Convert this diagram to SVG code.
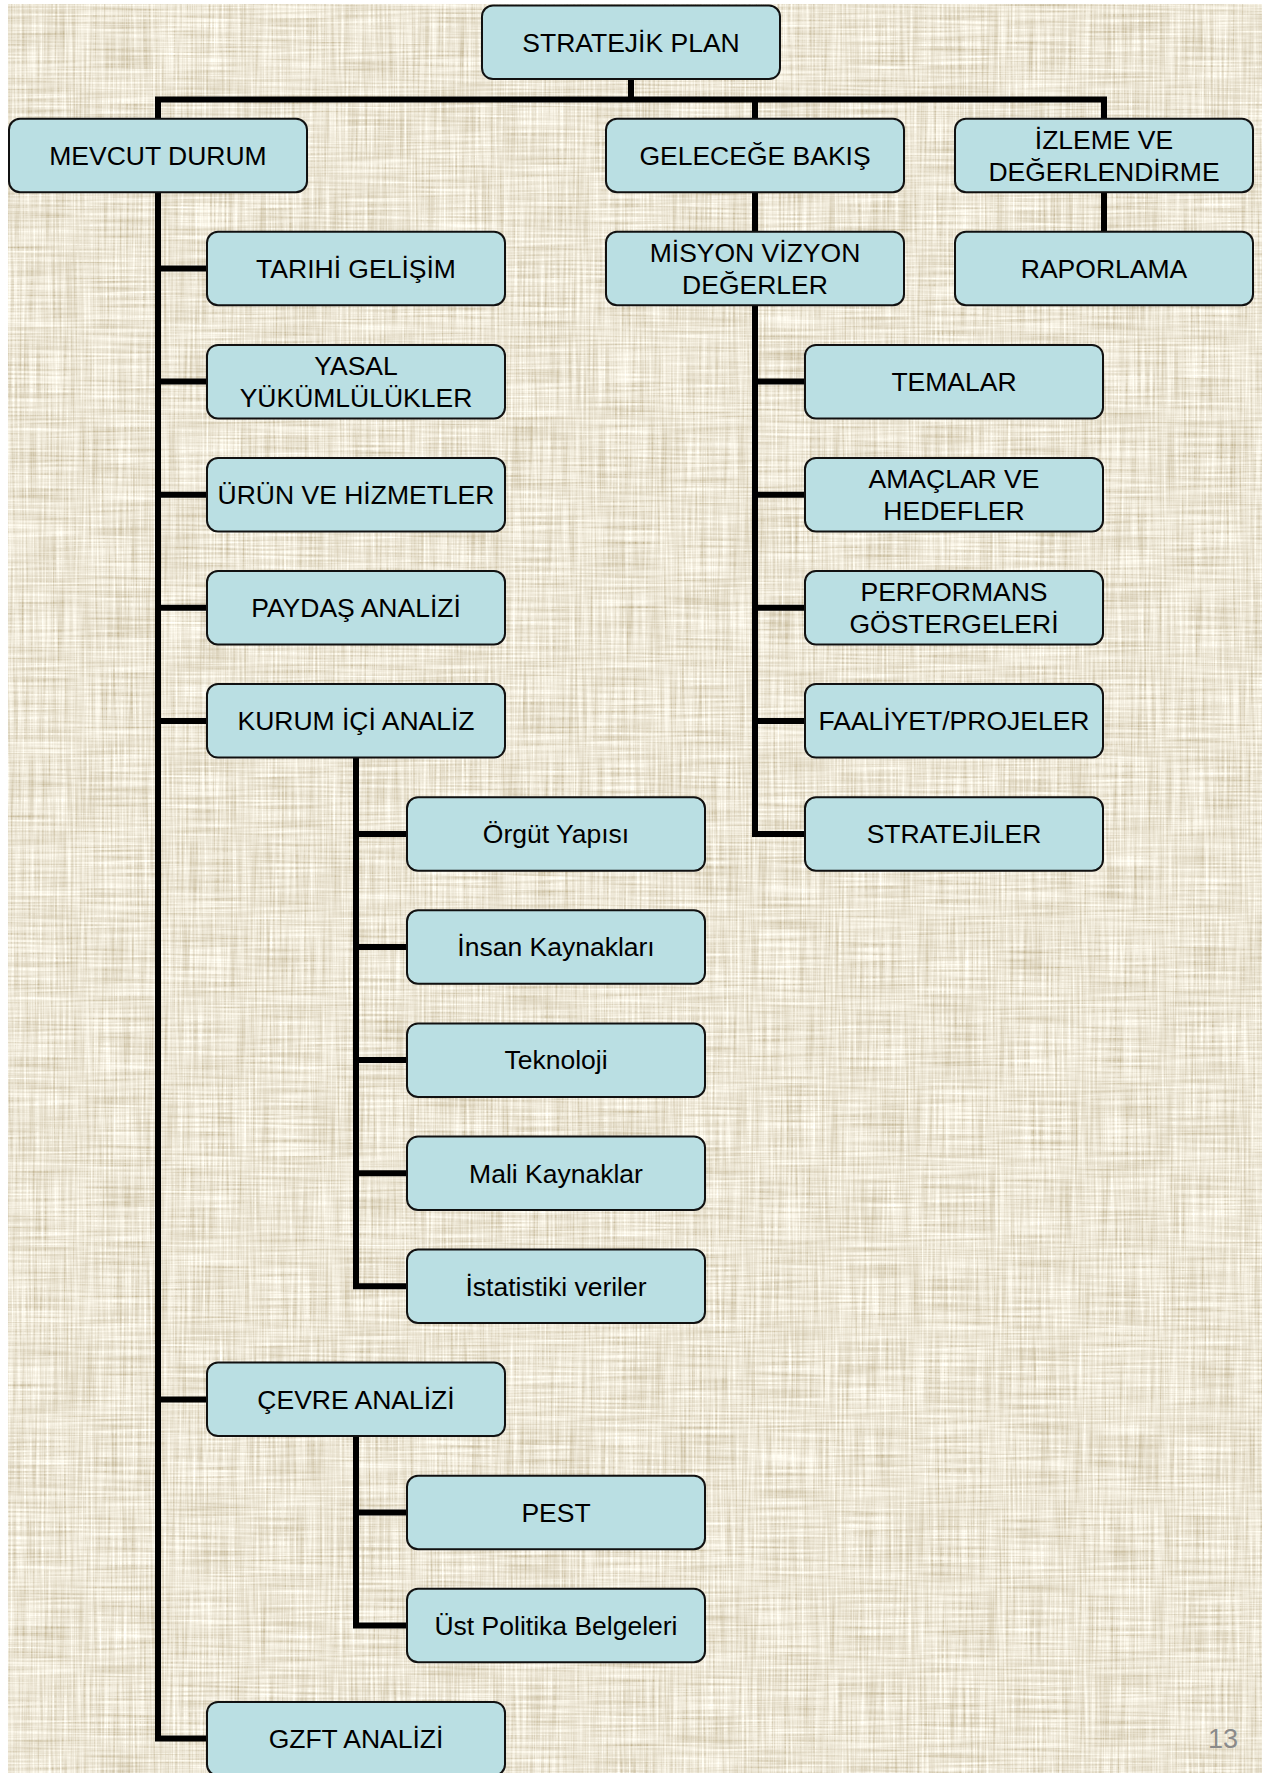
<svg xmlns="http://www.w3.org/2000/svg" width="1262" height="1773" viewBox="0 0 1262 1773">
  <defs>
    <!-- woven linen backdrop: vertical and horizontal streak noise tinted beige -->
    <filter id="linen" x="0" y="0" width="100%" height="100%" filterUnits="objectBoundingBox">
      <feTurbulence type="fractalNoise" baseFrequency="0.45 0.012" numOctaves="2" seed="4" result="warp"/>
      <feTurbulence type="fractalNoise" baseFrequency="0.012 0.45" numOctaves="2" seed="9" result="weft"/>
      <feComposite in="warp" in2="weft" operator="arithmetic" k2="0.5" k3="0.5" result="weave"/>
      <feColorMatrix in="weave" type="matrix" values="0.9 0 0 0 0.39  1 0 0 0 0.29  1.15 0 0 0 0.09  0 0 0 0 1"/>
    </filter>
    <style>
      .box { fill: #badfe3; stroke: #111; stroke-width: 2; }
      .lbl { font-family: "Liberation Sans", Arial, sans-serif; font-size: 26.5px; fill: #000; text-anchor: middle; }
      .wire { fill: none; stroke: #000; stroke-width: 6; stroke-linejoin: miter; stroke-linecap: butt; }
      .pageno { font-family: "Liberation Sans", Arial, sans-serif; font-size: 27px; fill: #8a8a8a; text-anchor: end; }
    </style>
  </defs>

  <!-- page -->
  <rect x="0" y="0" width="1262" height="1773" fill="#ffffff"/>
  <rect x="8" y="4" width="1254" height="1769" fill="#d9ceb4" filter="url(#linen)"/>

  <!-- connectors -->
  <g id="connectors" class="wire">
    <!-- top level -->
    <path d="M631,79 V99.5"/>
    <path d="M158,118.7 V99.5 H1104 V118.7"/>
    <path d="M755,99.5 V118.7"/>
    <!-- MEVCUT DURUM trunk -->
    <path d="M158,192 V1738.6 H207"/>
    <path d="M158,268.6 H207"/>
    <path d="M158,381.6 H207"/>
    <path d="M158,494.7 H207"/>
    <path d="M158,607.8 H207"/>
    <path d="M158,720.9 H207"/>
    <path d="M158,1399.4 H207"/>
    <!-- KURUM İÇİ ANALİZ sub-trunk -->
    <path d="M356,757.6 V1286.3 H407"/>
    <path d="M356,834 H407"/>
    <path d="M356,947 H407"/>
    <path d="M356,1060.1 H407"/>
    <path d="M356,1173.2 H407"/>
    <!-- ÇEVRE ANALİZİ sub-trunk -->
    <path d="M356,1436.1 V1625.5 H407"/>
    <path d="M356,1512.4 H407"/>
    <!-- GELECEĞE BAKIŞ chain -->
    <path d="M755,192 V231.8"/>
    <path d="M755,305.3 V834 H805"/>
    <path d="M755,381.6 H805"/>
    <path d="M755,494.7 H805"/>
    <path d="M755,607.8 H805"/>
    <path d="M755,720.9 H805"/>
    <!-- İZLEME chain -->
    <path d="M1104,192 V231.8"/>
  </g>

  <!-- root -->
  <g id="n-stratejik-plan">
    <rect class="box" x="482" y="5.6" width="298" height="73.5" rx="11"/>
    <text class="lbl" x="631" y="51.7">STRATEJİK PLAN</text>
  </g>

  <!-- level 1 -->
  <g id="n-mevcut-durum">
    <rect class="box" x="9" y="118.7" width="298" height="73.5" rx="11"/>
    <text class="lbl" x="158" y="164.8">MEVCUT DURUM</text>
  </g>
  <g id="n-gelecege-bakis">
    <rect class="box" x="606" y="118.7" width="298" height="73.5" rx="11"/>
    <text class="lbl" x="755" y="164.8">GELECEĞE BAKIŞ</text>
  </g>
  <g id="n-izleme">
    <rect class="box" x="955" y="118.7" width="298" height="73.5" rx="11"/>
    <text class="lbl" x="1104" y="149">İZLEME VE</text>
    <text class="lbl" x="1104" y="180.5">DEĞERLENDİRME</text>
  </g>

  <!-- MEVCUT DURUM children -->
  <g id="n-tarihi-gelisim">
    <rect class="box" x="207" y="231.8" width="298" height="73.5" rx="11"/>
    <text class="lbl" x="356" y="277.9">TARIHİ GELİŞİM</text>
  </g>
  <g id="n-yasal">
    <rect class="box" x="207" y="344.9" width="298" height="73.5" rx="11"/>
    <text class="lbl" x="356" y="375.2">YASAL</text>
    <text class="lbl" x="356" y="406.7">YÜKÜMLÜLÜKLER</text>
  </g>
  <g id="n-urun-hizmet">
    <rect class="box" x="207" y="458" width="298" height="73.5" rx="11"/>
    <text class="lbl" x="356" y="504">ÜRÜN VE HİZMETLER</text>
  </g>
  <g id="n-paydas">
    <rect class="box" x="207" y="571" width="298" height="73.5" rx="11"/>
    <text class="lbl" x="356" y="617.1">PAYDAŞ ANALİZİ</text>
  </g>
  <g id="n-kurum-ici">
    <rect class="box" x="207" y="684.1" width="298" height="73.5" rx="11"/>
    <text class="lbl" x="356" y="730.2">KURUM İÇİ ANALİZ</text>
  </g>
  <g id="n-cevre">
    <rect class="box" x="207" y="1362.6" width="298" height="73.5" rx="11"/>
    <text class="lbl" x="356" y="1408.7">ÇEVRE ANALİZİ</text>
  </g>
  <g id="n-gzft">
    <rect class="box" x="207" y="1701.9" width="298" height="73.5" rx="11"/>
    <text class="lbl" x="356" y="1747.9">GZFT ANALİZİ</text>
  </g>

  <!-- KURUM İÇİ ANALİZ children -->
  <g id="n-orgut">
    <rect class="box" x="407" y="797.2" width="298" height="73.5" rx="11"/>
    <text class="lbl" x="556" y="843.3">Örgüt Yapısı</text>
  </g>
  <g id="n-insan">
    <rect class="box" x="407" y="910.3" width="298" height="73.5" rx="11"/>
    <text class="lbl" x="556" y="956.3">İnsan Kaynakları</text>
  </g>
  <g id="n-teknoloji">
    <rect class="box" x="407" y="1023.4" width="298" height="73.5" rx="11"/>
    <text class="lbl" x="556" y="1069.4">Teknoloji</text>
  </g>
  <g id="n-mali">
    <rect class="box" x="407" y="1136.5" width="298" height="73.5" rx="11"/>
    <text class="lbl" x="556" y="1182.5">Mali Kaynaklar</text>
  </g>
  <g id="n-istatistik">
    <rect class="box" x="407" y="1249.5" width="298" height="73.5" rx="11"/>
    <text class="lbl" x="556" y="1295.6">İstatistiki veriler</text>
  </g>

  <!-- ÇEVRE ANALİZİ children -->
  <g id="n-pest">
    <rect class="box" x="407" y="1475.7" width="298" height="73.5" rx="11"/>
    <text class="lbl" x="556" y="1521.7">PEST</text>
  </g>
  <g id="n-ust-politika">
    <rect class="box" x="407" y="1588.8" width="298" height="73.5" rx="11"/>
    <text class="lbl" x="556" y="1634.8">Üst Politika Belgeleri</text>
  </g>

  <!-- GELECEĞE BAKIŞ children -->
  <g id="n-misyon">
    <rect class="box" x="606" y="231.8" width="298" height="73.5" rx="11"/>
    <text class="lbl" x="755" y="262.1">MİSYON VİZYON</text>
    <text class="lbl" x="755" y="293.6">DEĞERLER</text>
  </g>
  <g id="n-temalar">
    <rect class="box" x="805" y="344.9" width="298" height="73.5" rx="11"/>
    <text class="lbl" x="954" y="391">TEMALAR</text>
  </g>
  <g id="n-amaclar">
    <rect class="box" x="805" y="458" width="298" height="73.5" rx="11"/>
    <text class="lbl" x="954" y="488.2">AMAÇLAR VE</text>
    <text class="lbl" x="954" y="519.7">HEDEFLER</text>
  </g>
  <g id="n-performans">
    <rect class="box" x="805" y="571" width="298" height="73.5" rx="11"/>
    <text class="lbl" x="954" y="601.3">PERFORMANS</text>
    <text class="lbl" x="954" y="632.8">GÖSTERGELERİ</text>
  </g>
  <g id="n-faaliyet">
    <rect class="box" x="805" y="684.1" width="298" height="73.5" rx="11"/>
    <text class="lbl" x="954" y="730.2">FAALİYET/PROJELER</text>
  </g>
  <g id="n-stratejiler">
    <rect class="box" x="805" y="797.2" width="298" height="73.5" rx="11"/>
    <text class="lbl" x="954" y="843.3">STRATEJİLER</text>
  </g>

  <!-- İZLEME child -->
  <g id="n-raporlama">
    <rect class="box" x="955" y="231.8" width="298" height="73.5" rx="11"/>
    <text class="lbl" x="1104" y="277.9">RAPORLAMA</text>
  </g>

  <!-- page number -->
  <text class="pageno" x="1238" y="1748">13</text>
</svg>
